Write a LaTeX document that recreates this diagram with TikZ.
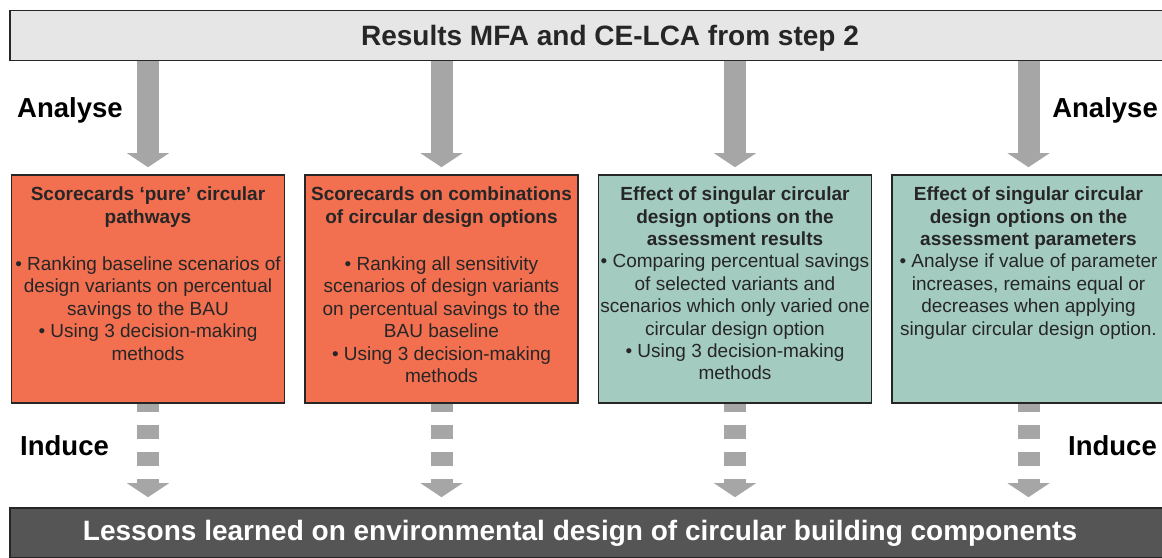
\documentclass[tikz,border=0pt]{standalone}
\usepackage{fontspec}
\setmainfont{Liberation Sans}
\usepackage{tikz}
\usetikzlibrary{arrows.meta, positioning}
\usepackage{xcolor}

\definecolor{barfill}{RGB}{230,230,230}
\definecolor{lessonfill}{RGB}{85,85,85}
\definecolor{scorered}{RGB}{242,111,80}
\definecolor{effectteal}{RGB}{163,203,191}
\definecolor{flowgray}{RGB}{166,166,166}
\definecolor{inkgray}{RGB}{38,38,38}

\newcommand{\cardtext}[1]{\parbox[t][204pt][t]{271pt}{\centering #1}}

\begin{document}
\begin{tikzpicture}[x=1pt,y=-1pt,node distance=293.5pt,on grid,auto]
    \tikzstyle{bar}=[draw=inkgray,line width=1.6pt,minimum width=1200pt,minimum height=50pt,inner sep=0pt]
    \tikzstyle{bartext}=[font=\bfseries\fontsize{28}{30}\selectfont,anchor=base,inner sep=0pt]
    \tikzstyle{card}=[draw=inkgray,line width=1.6pt,minimum width=273pt,minimum height=228pt,inner sep=0pt,text=inkgray,font=\fontsize{19}{22.4}\selectfont]
    \tikzstyle{phase}=[font=\bfseries\fontsize{27.5}{30}\selectfont,text=black,inner sep=0pt]
    \tikzstyle{flow}=[color=flowgray,line width=22pt,-{Triangle[width=42pt,length=14pt,line width=0pt]}]
    \tikzstyle{dashflow}=[flow,dash pattern=on 13.5pt off 13.5pt,dash phase=5.5pt]

    \useasboundingbox (0,0) rectangle (1162,557);
    \fill[white] (0,0) rectangle (1162,557);

    \node[bar,fill=barfill] (results) at (610,35.5) {};
    \node[bartext,text=inkgray] (resultstext) at (610,45) {Results MFA and CE-LCA from step 2};
    \node[bar,fill=lessonfill] (lessons) at (610,533) {};
    \node[bartext,text=white] (lessonstext) at (580,540) {Lessons learned on environmental design of circular building components};

    \node[card,fill=scorered] (S1) at (148,289) {\cardtext{\textbf{Scorecards ‘pure’ circular\\pathways}\\[25pt]
        • Ranking baseline scenarios of\\design variants on percentual\\savings to the BAU\\• Using 3 decision-making\\methods}};
    \node[card,fill=scorered,right of=S1] (S2) {\cardtext{\textbf{Scorecards on combinations\\of circular design options}\\[25pt]
        • Ranking all sensitivity\\scenarios of design variants\\on percentual savings to the\\BAU baseline\\• Using 3 decision-making\\methods}};
    \node[card,fill=effectteal,right of=S2] (S3) {\cardtext{\textbf{Effect of singular circular\\design options on the\\assessment results}\\
        • Comparing percentual savings\\of selected variants and\\scenarios which only varied one\\circular design option\\• Using 3 decision-making\\methods}};
    \node[card,fill=effectteal,right of=S3] (S4) {\cardtext{\textbf{Effect of singular circular\\design options on the\\assessment parameters}\\
        • Analyse if value of parameter\\increases, remains equal or\\decreases when applying\\singular circular design option.}};

    \node[phase,anchor=base west] (analyseL) at (17,117) {Analyse};
    \node[phase,anchor=base east] (analyseR) at (1158,117) {Analyse};
    \node[phase,anchor=base west] (induceL) at (20,455) {Induce};
    \node[phase,anchor=base east] (induceR) at (1157,455) {Induce};

    % analyse: solid arrows down to the cards
    \path
    (results.south -| S1) edge[flow,shorten >=7pt] (S1)
    (results.south -| S2) edge[flow,shorten >=7pt] (S2)
    (results.south -| S3) edge[flow,shorten >=7pt] (S3)
    (results.south -| S4) edge[flow,shorten >=7pt] (S4)
   ;

    % induce: dashed arrows down to the lessons bar
    \path
    (S1) edge[dashflow,shorten >=10pt] (S1 |- lessons.north)
    (S2) edge[dashflow,shorten >=10pt] (S2 |- lessons.north)
    (S3) edge[dashflow,shorten >=10pt] (S3 |- lessons.north)
    (S4) edge[dashflow,shorten >=10pt] (S4 |- lessons.north)
   ;

\end{tikzpicture}
\end{document}
